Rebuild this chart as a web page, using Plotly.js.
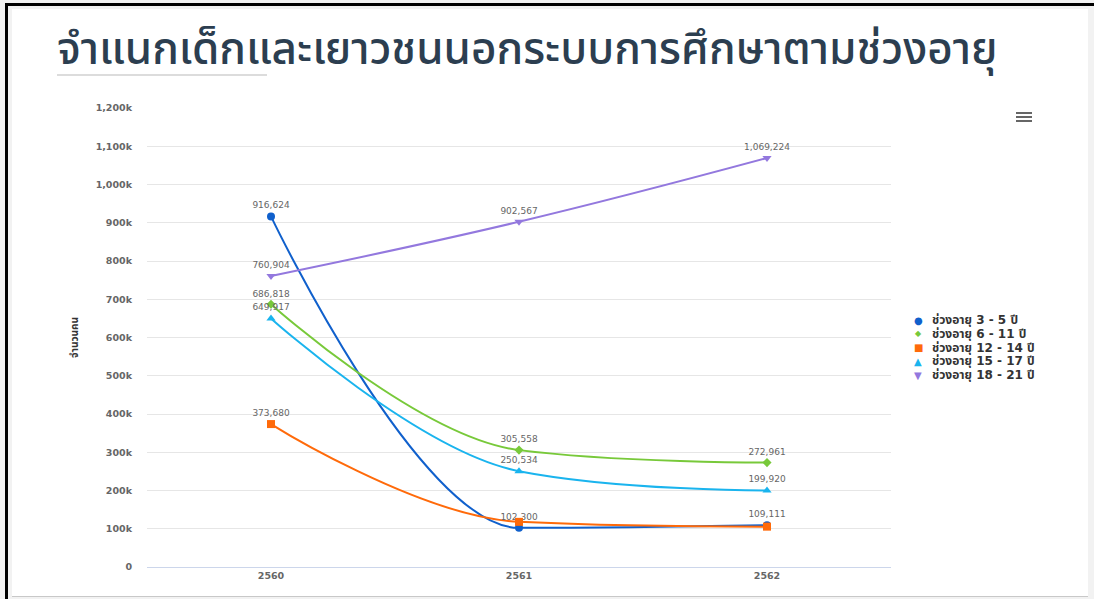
<!DOCTYPE html>
<html><head><meta charset="utf-8">
<script src="https://cdn.plot.ly/plotly-3.0.1.min.js"></script>
<style>
html,body{margin:0;padding:0;width:1094px;height:599px;overflow:hidden;background:#f2f2f2;}
#frameTop{position:absolute;left:5px;top:3px;width:1089px;height:3px;background:#000;}
#frameLeft{position:absolute;left:5px;top:3px;width:3px;height:596px;background:#000;}
#card{position:absolute;left:12px;top:9px;width:1076px;height:587px;background:#fff;border-bottom:1px solid #c8c8c8;}
#rule{position:absolute;left:57px;top:74px;width:210px;height:2px;background:#dcdcdc;}
.mline{position:absolute;left:1016px;width:16px;height:2px;background:#666;}
#chart{position:absolute;left:0;top:0;width:1094px;height:599px;}
</style>
</head><body>
<div id="frameTop"></div><div id="frameLeft"></div>
<div id="card"></div>
<div id="rule"></div>
<div class="mline" style="top:112px"></div>
<div class="mline" style="top:116px"></div>
<div class="mline" style="top:120px"></div>
<div id="chart"></div>
<script>
const titleText = "จำแนกเด็กและเยาวชนนอกระบบการศึกษาตามช่วงอายุ";
const yTitle = "จำนวนคน";
const years = [2560, 2561, 2562];
const seriesNames = ["ช่วงอายุ 3 - 5 ปี", "ช่วงอายุ 6 - 11 ปี", "ช่วงอายุ 12 - 14 ปี", "ช่วงอายุ 15 - 17 ปี", "ช่วงอายุ 18 - 21 ปี"];
const age3to5 = [916624, 102300, 109111];
const age6to11 = [686818, 305558, 272961];
const age12to14 = [373680, 118000, 105500];
const age15to17 = [649917, 250534, 199920];
const age18to21 = [760904, 902567, 1069224];
// which data labels are visible (overlapping ones hidden as in the original)
const show3to5 = [true, true, true];
const show6to11 = [true, true, true];
const show12to14 = [true, false, false];
const show15to17 = [true, true, true];
const show18to21 = [true, true, true];
const yTickVals = [0, 100000, 200000, 300000, 400000, 500000, 600000, 700000, 800000, 900000, 1000000, 1100000, 1200000];
const yTickText = ["0", "100k", "200k", "300k", "400k", "500k", "600k", "700k", "800k", "900k", "1,000k", "1,100k", "1,200k"];

const colors = ["#1060cc", "#78c93a", "#ff6a0a", "#1ab4ee", "#9378de"];
const symbols = ["circle", "diamond", "square", "triangle-up", "triangle-down"];
const glyphs = ["●", "◆", "■", "▲", "▼"];
const sizes = [8, 7, 8, 8, 8];
const allVals = [age3to5, age6to11, age12to14, age15to17, age18to21];
const allShow = [show3to5, show6to11, show12to14, show15to17, show18to21];

// Highcharts-style spline (no false extremes) computed from the data
function splinePath(xs, ys) {
  const sm = 1.5, den = sm + 1;
  let d = "", prevRight = null;
  for (let i = 0; i < xs.length; i++) {
    const x = xs[i], y = ys[i];
    if (i === 0) { d += "M" + x + "," + y; prevRight = [x, y]; continue; }
    const lx = xs[i - 1], ly = ys[i - 1];
    let lcx = x, lcy = y, rcx = x, rcy = y;
    if (i < xs.length - 1) {
      const nx = xs[i + 1], ny = ys[i + 1];
      lcx = (sm * x + lx) / den; lcy = (sm * y + ly) / den;
      rcx = (sm * x + nx) / den; rcy = (sm * y + ny) / den;
      let corr = 0;
      if (rcx !== lcx) corr = ((rcy - lcy) * (rcx - x)) / (rcx - lcx) + y - rcy;
      lcy += corr; rcy += corr;
      if (lcy > ly && lcy > y) { lcy = Math.max(ly, y); rcy = 2 * y - lcy; }
      else if (lcy < ly && lcy < y) { lcy = Math.min(ly, y); rcy = 2 * y - lcy; }
      if (rcy > ny && rcy > y) { rcy = Math.max(ny, y); lcy = 2 * y - rcy; }
      else if (rcy < ny && rcy < y) { rcy = Math.min(ny, y); lcy = 2 * y - rcy; }
    }
    d += " C" + prevRight[0] + "," + prevRight[1] + " " + lcx + "," + lcy + " " + x + "," + y;
    prevRight = [rcx, rcy];
  }
  return d;
}

const fontFam = "'Noto Sans Thai', 'DejaVu Sans', 'Noto Sans', sans-serif";
const traces = [];
const shapes = [];
allVals.forEach((vals, i) => {
  shapes.push({type: "path", xref: "x", yref: "y", layer: "between",
               path: splinePath(years, vals), line: {color: colors[i], width: 2}});
  traces.push({
    type: "scatter", mode: "markers+text",
    x: years, y: vals, name: seriesNames[i], showlegend: false,
    text: vals.map((v, j) => allShow[i][j] ? v.toLocaleString("en-US") : ""),
    textposition: "top center",
    textfont: {family: "DejaVu Sans", size: 9, color: "#666"},
    marker: {color: colors[i], symbol: symbols[i], size: sizes[i]},
    hoverinfo: "x+y+name", cliponaxis: false
  });
});

// manual legend (compact spacing as in the original)
const plotL = 147, plotR = 891, plotT = 108, plotB = 567;
const px2x = p => (p - plotL) / (plotR - plotL);
const px2y = p => (plotB - p) / (plotB - plotT);
const annotations = [];
seriesNames.forEach((nm, i) => {
  const yy = px2y(320 + i * 13.8);
  annotations.push({xref: "paper", yref: "paper", x: px2x(918), y: yy, xanchor: "center", yanchor: "middle",
    text: glyphs[i], showarrow: false, font: {family: "DejaVu Sans", size: i === 1 ? 8 : 10, color: colors[i]}});
  annotations.push({xref: "paper", yref: "paper", x: px2x(930), y: yy, xanchor: "left", yanchor: "middle",
    text: nm, showarrow: false, font: {family: "'DejaVu Sans', 'Noto Sans Thai', sans-serif", size: 12, color: "#333", weight: "bold"}});
});

const layout = {
  width: 1094, height: 599,
  paper_bgcolor: "rgba(0,0,0,0)", plot_bgcolor: "rgba(0,0,0,0)",
  margin: {l: plotL, r: 1094 - plotR, t: plotT, b: 599 - plotB},
  title: {text: titleText, xref: "container", yref: "container", x: 57/1094, xanchor: "left",
          y: 1 - 49/599, yanchor: "middle",
          font: {family: fontFam, size: 44, color: "#2c3e50", weight: 500}},
  xaxis: {range: [2559.5, 2562.5], tickvals: years, ticktext: years.map(String), showgrid: false, zeroline: false,
          showline: true, linecolor: "#ccd6eb", linewidth: 1,
          ticks: "", tickfont: {family: "DejaVu Sans", size: 9.5, color: "#666", weight: "bold"}},
  yaxis: {range: [0, 1200000], tickvals: yTickVals, ticktext: yTickText,
          showgrid: true, gridcolor: "#e6e6e6", gridwidth: 1, zeroline: false,
          ticks: "", ticklabelstandoff: 14,
          tickfont: {family: "DejaVu Sans", size: 9.5, color: "#666", weight: "bold"},
          title: {text: yTitle, standoff: 15, font: {family: fontFam, size: 10, color: "#333", weight: "bold"}}},
  shapes: shapes,
  annotations: annotations,
  showlegend: false,
  hovermode: "closest"
};
Plotly.newPlot("chart", traces, layout, {displayModeBar: false, responsive: false});
</script>
</body></html>
